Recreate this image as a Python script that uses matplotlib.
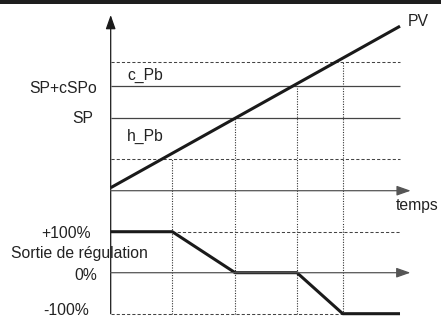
import matplotlib.pyplot as plt
from matplotlib.patches import Rectangle

# temps (unites arbitraires) aux points de rupture de la sortie
t_rupture = [0, 2.13, 4.30, 6.44, 8.02, 10.0]

# mesure PV (rampe)
t_pv = [0, 10.0]
pv = [0.3, 16.45]

# niveaux de la bande proportionnelle
niveau_h_pb = 3.17
niveau_sp = 7.3
niveau_sp_cspo = 10.5
niveau_c_pb = 12.9
niveaux_verticales = [niveau_h_pb, niveau_sp, niveau_sp_cspo, niveau_c_pb]

# sortie de regulation en %
sortie = [100, 100, 0, 0, -100, -100]

couleur = "#1a1a1a"
gris = "#444444"
fs = 11.3

plt.rcParams["font.family"] = ["Liberation Sans", "DejaVu Sans"]

fig = plt.figure(figsize=(4.41, 3.18), dpi=100)
ax_pv = fig.add_axes([0, 96 / 318, 1, 222 / 318])
ax_out = fig.add_axes([0, 0, 1, 96 / 318])
for ax in (ax_pv, ax_out):
    ax.set_xlim(-3.826, 11.417)
    ax.axis("off")
    ax.patch.set_visible(False)
ax_pv.set_ylim(-3.13, 19.07)
ax_out.set_ylim(-110.5, 123.7)

t_fin = t_rupture[-1]
tirets = (0, (3, 2))
points = (0, (1, 1.3))

# lignes horizontales du haut
ax_pv.hlines([niveau_c_pb, niveau_h_pb], 0, t_fin, colors=gris, lw=0.75, linestyles=[tirets])
ax_pv.hlines([niveau_sp_cspo, niveau_sp], 0, t_fin, colors=gris, lw=0.9)

# verticales pointillees
ylim_bas = ax_pv.get_ylim()[0]
ylim_haut = ax_out.get_ylim()[1]
for t, niv in zip(t_rupture[1:5], niveaux_verticales):
    ax_pv.vlines(t, ylim_bas, niv, colors="#333333", lw=0.8, linestyles=[points])
    ax_out.vlines(t, -100, ylim_haut, colors="#333333", lw=0.8, linestyles=[points])

# lignes tiretees de la sortie
ax_out.hlines(100, t_rupture[1], t_fin, colors=gris, lw=0.75, linestyles=[tirets])
ax_out.hlines(-100, 0, t_rupture[4], colors=gris, lw=0.75, linestyles=[tirets])

fleche = dict(arrowstyle="-|>,head_length=0.85,head_width=0.3", lw=0.9,
              color=couleur, shrinkA=0, shrinkB=0, mutation_scale=10)
# axe vertical
ax_pv.annotate("", xy=(0, 17.57), xytext=(0, -100), textcoords=ax_out.transData,
               arrowprops=fleche, annotation_clip=False)
# axe du temps
ax_pv.annotate("", xy=(10.37, 0), xytext=(0, 0), arrowprops=dict(fleche, color="#555555"),
               annotation_clip=False)
ax_out.annotate("", xy=(10.36, 0), xytext=(0, 0), arrowprops=dict(fleche, color="#555555"),
                annotation_clip=False)

# courbes
ax_pv.plot(t_pv, pv, color=couleur, lw=2.2, solid_capstyle="butt")
ax_out.plot(t_rupture, sortie, color=couleur, lw=2.2, solid_capstyle="butt")

# textes
txt = dict(fontsize=fs, color="#222222", va="baseline")
ax_pv.text(10.28, 16.47, "PV", ha="left", **txt)
ax_pv.text(0.56, 11.07, "c_Pb", ha="left", **txt)
ax_pv.text(0.56, 4.97, "h_Pb", ha="left", **txt)
ax_pv.text(-0.48, 9.8, "SP+cSPo", ha="right", **txt)
ax_pv.text(-0.62, 6.74, "SP", ha="right", **txt)
ax_pv.text(9.86, -1.93, "temps", ha="left", **txt)
ax_out.text(-0.69, 85.4, "+100%", ha="right", **txt)
ax_out.text(-3.46, 35.1, "Sortie de régulation", ha="left", **txt)
ax_out.text(-0.48, -17.8, "0%", ha="right", **txt)
ax_out.text(-0.74, -103.5, "-100%", ha="right", **txt)

# bandeau noir en haut
fig.add_artist(Rectangle((0, 1 - 4 / 318), 1, 4 / 318, transform=fig.transFigure,
                         color="#1e1e1e", lw=0))

fig.savefig("out.png", dpi=100)
